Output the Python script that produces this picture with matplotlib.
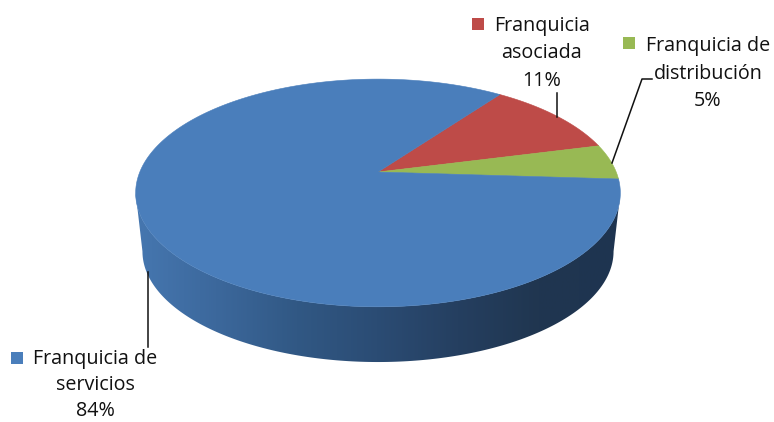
import numpy as np
import matplotlib
matplotlib.use("Agg")
import matplotlib.pyplot as plt
from matplotlib.colors import LinearSegmentedColormap
from matplotlib.patches import Polygon, Rectangle

categorias = ["Franquicia de\nservicios", "Franquicia\nasociada", "Franquicia de\ndistribución"]
valores = [84, 11, 5]
colores = ["#4a7ebb", "#be4b48", "#98b954"]

# pie geometry, in pixels of the picture
cx, cy = 378, 172
R, H, k = 238.2, 110, 0.184
inicio = 54.0
prof = 59
esc = 0.972

# where each label goes (centre, first baseline, line step)
pos_cuadro = [(11, 352), (472, 18), (623, 37)]
pos_primera = [(95.5, 364), (542, 30.7), (708, 51.5)]
paso_linea = [26, 27.5, 27.5]
lineas = [[(148, 272), (148, 347)], [(557, 93), (557, 117)], [(612, 163), (642, 79), (652, 79)]]


def borde(theta, escala=1.0, dy=0.0):
    # unit circle seen in perspective: the back of the pie is smaller
    t = np.radians(theta)
    u, v = np.cos(t), np.sin(t)
    x = cx + escala * R * u / (1 + k * v)
    y = cy + dy - escala * H * v / (1 + k * v)
    return np.column_stack([x, y])


plt.rcParams["font.family"] = ["Open Sans", "DejaVu Sans"]
fig = plt.figure(figsize=(7.74, 4.22), dpi=100)
ax = fig.add_axes([0, 0, 1, 1])
ax.set_xlim(0, 774)
ax.set_ylim(422, 0)
ax.axis("off")

# side of the pie, gradient clipped to the front band
lado = LinearSegmentedColormap.from_list(
    "lado", ["#4677b0", "#3c689c", "#315884", "#2b4c74", "#253f60", "#203650", "#1e3450"])
ang = np.degrees(np.arcsin(k))
frente = np.linspace(180 + ang, 360 - ang, 200)
banda = np.vstack([borde(frente), borde(frente[::-1], esc, prof)])
img = ax.imshow(np.linspace(0, 1, 256).reshape(1, -1), cmap=lado, aspect="auto",
                extent=(135, 620, 422, 0), zorder=1)
img.set_clip_path(Polygon(banda, closed=True, transform=ax.transData))
ax.set_xlim(0, 774)
ax.set_ylim(422, 0)

# top of the pie, slices going clockwise
a = inicio
orden = [1, 2, 0]
for i in orden:
    paso = valores[i] / sum(valores) * 360
    th = np.linspace(a, a - paso, 300)
    ax.add_patch(Polygon(np.vstack([[cx, cy], borde(th)]), closed=True,
                         facecolor=colores[i], edgecolor=colores[i], linewidth=0.4, zorder=2))
    a -= paso

for l in lineas:
    l = np.array(l)
    ax.plot(l[:, 0], l[:, 1], color="#111111", lw=1.1, zorder=3)

for i in range(3):
    filas = categorias[i].split("\n") + ["%d%%" % valores[i]]
    x, y = pos_primera[i]
    for j, fila in enumerate(filas):
        ax.text(x, y + j * paso_linea[i], fila, ha="center", va="baseline", fontsize=14.2, color="#111111", zorder=4)
    ax.add_patch(Rectangle(pos_cuadro[i], 12, 12, facecolor=colores[i], edgecolor="none", zorder=4))

fig.savefig("out.png", dpi=100)
